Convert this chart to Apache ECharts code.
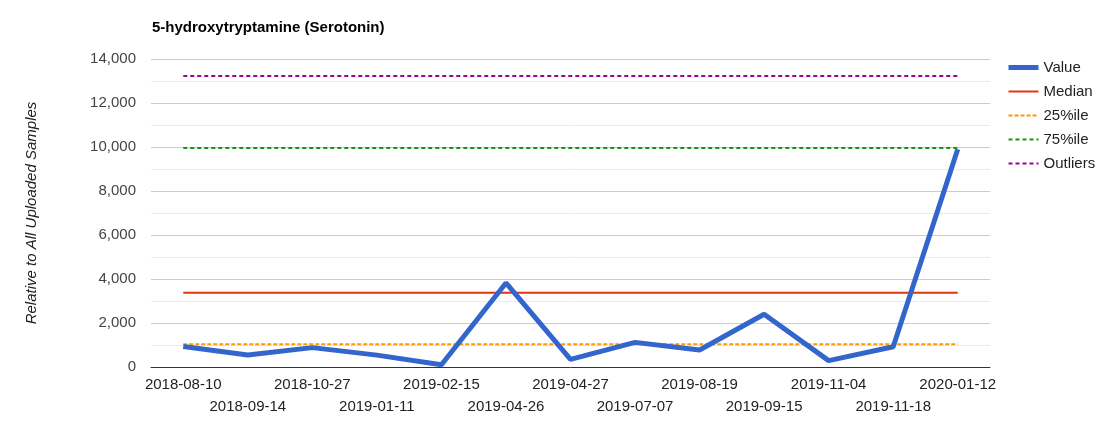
<!DOCTYPE html>
<html>
<head>
<meta charset="utf-8">
<script src="https://cdn.jsdelivr.net/npm/echarts@6/dist/echarts.min.js"></script>
<style>html,body{margin:0;padding:0;background:#fff}#c{width:1113px;height:428px}</style>
</head>
<body>
<div id="c"></div>
<script>
const categories = ['2018-08-10','2018-09-14','2018-10-27','2019-01-11','2019-02-15','2019-04-26','2019-04-27','2019-07-07','2019-08-19','2019-09-15','2019-11-04','2019-11-18','2020-01-12'];
const values = [930, 550, 880, 540, 100, 3820, 350, 1120, 770, 2400, 290, 920, 9900];
const median = 3380;
const p25 = 1030;
const p75 = 9950;
const outliers = 13230;
const yTicks = {min: 0, max: 14000, step: 2000};

const FONT = '"Liberation Sans", Arial, sans-serif';
const fill = v => categories.map(() => v);

const chart = echarts.init(document.getElementById('c'), null, {renderer: 'canvas'});
chart.setOption({
  animation: false,
  textStyle: {fontFamily: FONT},
  title: {
    text: '5-hydroxytryptamine (Serotonin)',
    left: 147, top: 15,
    textStyle: {fontFamily: FONT, fontSize: 15, fontWeight: 'bold', color: '#000'}
  },
  legend: {
    orient: 'vertical', left: 1001, top: 55,
    itemWidth: 30, itemHeight: 14, itemGap: 9,
    itemStyle: {opacity: 0},
    textStyle: {fontFamily: FONT, fontSize: 15, color: '#222'},
    data: [
      {name: 'Value', lineStyle: {width: 5}},
      {name: 'Median', lineStyle: {width: 2}},
      {name: '25%ile', lineStyle: {width: 2}},
      {name: '75%ile', lineStyle: {width: 2}},
      {name: 'Outliers', lineStyle: {width: 2}}
    ]
  },
  grid: {left: 151, right: 123, top: 59, bottom: 61, containLabel: false},
  xAxis: {
    type: 'category', data: categories, boundaryGap: true,
    axisLine: {lineStyle: {color: '#333', width: 1}},
    axisTick: {show: false},
    axisLabel: {
      interval: 0, margin: 7, color: '#222', fontSize: 15, fontFamily: FONT,
      lineHeight: 22,
      formatter: (v, i) => (i % 2 ? '\n' + v : v)
    }
  },
  yAxis: {
    type: 'value', min: yTicks.min, max: yTicks.max, interval: yTicks.step,
    name: 'Relative to All Uploaded Samples',
    nameLocation: 'middle', nameGap: 112, nameRotate: 90,
    nameTextStyle: {fontFamily: FONT, fontSize: 15, fontStyle: 'italic', color: '#222'},
    axisLine: {show: false}, axisTick: {show: false},
    axisLabel: {color: '#444', fontSize: 15, fontFamily: FONT, margin: 15,
      padding: [3, 0, 0, 0],
      formatter: v => v.toLocaleString('en-US')},
    splitLine: {lineStyle: {color: '#cccccc', width: 1}},
    minorTick: {show: false, splitNumber: 2},
    minorSplitLine: {show: true, lineStyle: {color: '#ebebeb', width: 1}}
  },
  series: [
    {name: 'Outliers', type: 'line', data: fill(outliers), symbol: 'none', z: 2,
      lineStyle: {color: '#990099', width: 2, type: [4, 3]}, itemStyle: {color: '#990099'}},
    {name: '75%ile', type: 'line', data: fill(p75), symbol: 'none', z: 2,
      lineStyle: {color: '#109618', width: 2, type: [4, 3]}, itemStyle: {color: '#109618'}},
    {name: '25%ile', type: 'line', data: fill(p25), symbol: 'none', z: 2,
      lineStyle: {color: '#ff9900', width: 2, type: [4, 2]}, itemStyle: {color: '#ff9900'}},
    {name: 'Median', type: 'line', data: fill(median), symbol: 'none', z: 2,
      lineStyle: {color: '#dc3912', width: 2}, itemStyle: {color: '#dc3912'}},
    {name: 'Value', type: 'line', data: values, symbol: 'none', z: 3,
      lineStyle: {color: '#3366cc', width: 5}, itemStyle: {color: '#3366cc'}}
  ]
});
</script>
</body>
</html>
